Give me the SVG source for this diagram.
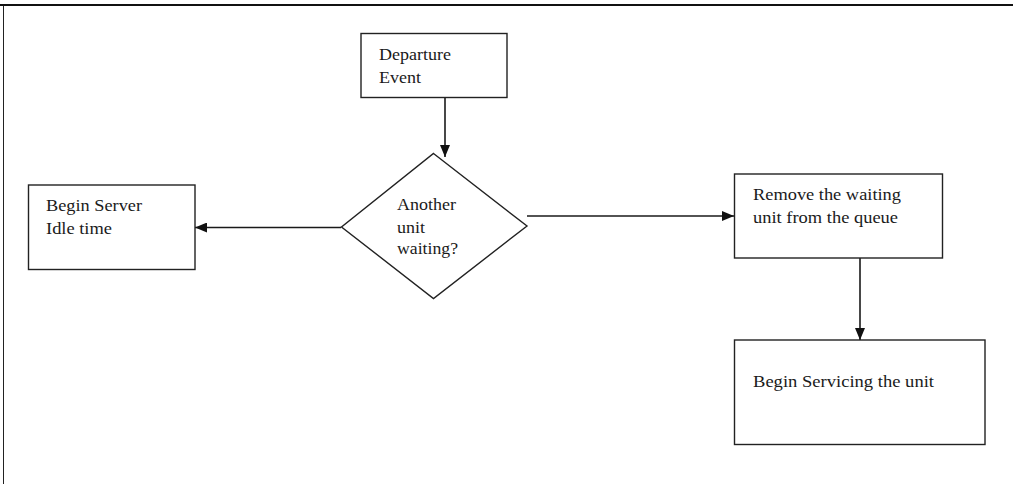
<svg xmlns="http://www.w3.org/2000/svg" width="1013" height="484" viewBox="0 0 1013 484">
<style>
.box{fill:#fff;stroke:#222;stroke-width:1.4}
.t{font-family:"Liberation Serif","Times New Roman",serif;font-size:17px;fill:#1a1a1a}
.c{fill:none;stroke:#1a1a1a;stroke-width:1.6}
</style>
<defs>
<marker id="ah" viewBox="0 0 12 10" refX="12" refY="5" markerWidth="12" markerHeight="10" markerUnits="userSpaceOnUse" orient="auto">
<path d="M0,0 L12,5 L0,10 Z" fill="#111"/>
</marker>
</defs>
<rect width="1013" height="484" fill="#fff"/>
<g id="frame">
<line x1="0" y1="5" x2="1013" y2="5" stroke="#111" stroke-width="2"/>
<line x1="3.5" y1="6" x2="3.5" y2="484" stroke="#222" stroke-width="1"/>
</g>
<g id="connectors">
<line class="c" x1="445" y1="97" x2="445" y2="157" stroke="#444" marker-end="url(#ah)"/>
<line class="c" x1="341" y1="227.5" x2="195" y2="227.5" stroke-width="2" marker-end="url(#ah)"/>
<line class="c" x1="527" y1="216" x2="734" y2="216" marker-end="url(#ah)"/>
<line class="c" x1="860" y1="258" x2="860" y2="340" marker-end="url(#ah)"/>
</g>
<g id="departure">
<rect class="box" x="361" y="33.5" width="146" height="64"/>
<text class="t" x="379" y="59.5" textLength="72" lengthAdjust="spacingAndGlyphs">Departure</text>
<text class="t" x="379" y="82.5" textLength="42" lengthAdjust="spacingAndGlyphs">Event</text>
</g>
<g id="decision">
<polygon class="box" points="433.5,153.5 527,226 433.5,298.5 341.5,227"/>
<text class="t" x="397" y="210" textLength="59" lengthAdjust="spacingAndGlyphs">Another</text>
<text class="t" x="397" y="232.5" textLength="28" lengthAdjust="spacingAndGlyphs">unit</text>
<text class="t" x="397" y="253.5" textLength="61" lengthAdjust="spacingAndGlyphs">waiting?</text>
</g>
<g id="idle">
<rect class="box" x="28.5" y="185" width="166.5" height="84.5"/>
<text class="t" x="46" y="210.5" textLength="96" lengthAdjust="spacingAndGlyphs">Begin Server</text>
<text class="t" x="46" y="233.5" textLength="66" lengthAdjust="spacingAndGlyphs">Idle time</text>
</g>
<g id="remove">
<rect class="box" x="734.5" y="174" width="208" height="84"/>
<text class="t" x="753" y="200" textLength="148" lengthAdjust="spacingAndGlyphs">Remove the waiting</text>
<text class="t" x="753" y="222.5" textLength="145" lengthAdjust="spacingAndGlyphs">unit from the queue</text>
</g>
<g id="servicing">
<rect class="box" x="734.5" y="340" width="250.5" height="104.5"/>
<text class="t" x="753" y="386.5" textLength="181" lengthAdjust="spacingAndGlyphs">Begin Servicing the unit</text>
</g>
</svg>
